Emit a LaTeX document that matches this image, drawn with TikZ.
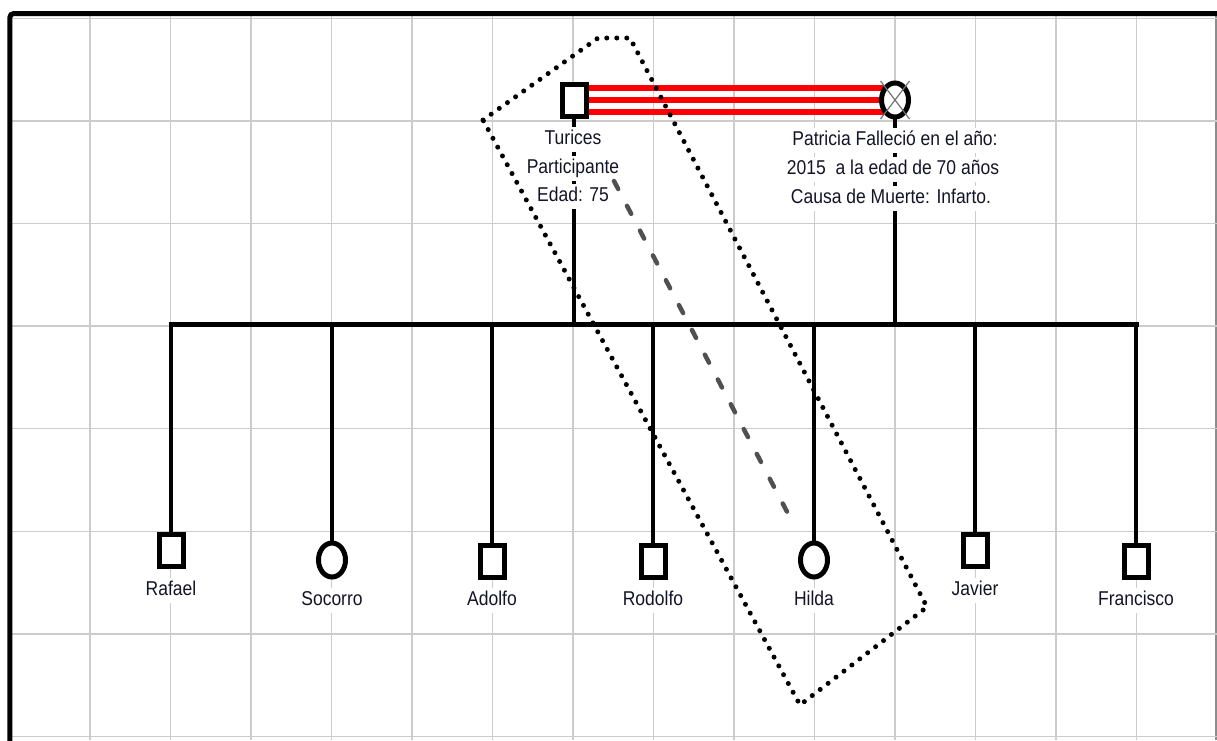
\documentclass[tikz,border=0pt]{standalone}
\usepackage{fontspec}
\usetikzlibrary{shapes.geometric}
\newfontfamily\lblfont{Liberation Sans}[FakeStretch=0.875]
\definecolor{gridgray}{RGB}{204,204,204}
\definecolor{labelink}{RGB}{20,20,40}
\definecolor{linkgray}{RGB}{80,80,80}
\pgfdeclarelayer{gridlayer}
\pgfdeclarelayer{wires}
\pgfsetlayers{gridlayer,wires,main}
\begin{document}
\begin{tikzpicture}[x=1pt,y=-1pt,
  gridline/.style={draw=gridgray,line width=1.5},
  male/.style={shape=rectangle,draw=black,fill=white,line width=5,inner sep=0,minimum width=24,minimum height=32},
  female/.style={shape=ellipse,draw=black,fill=white,line width=5,inner sep=0,minimum width=27,minimum height=34},
  lbl/.style={font=\lblfont\fontsize{20}{24}\selectfont,text=labelink,fill=white,inner xsep=1,inner ysep=3,text height=14.5,text depth=4.5,anchor=base},
  wire/.style={draw=black,line width=4},
  busline/.style={draw=black,line width=5,line cap=rect},
  couple/.style={draw=red,line width=6.5},
  crossmark/.style={draw=black!55,line width=1.2},
  groupbox/.style={draw=black,line width=5,line cap=round,dash pattern=on 0pt off 10pt},
  link/.style={draw=linkgray,line width=4.5,line cap=round,dash pattern=on 9pt off 19pt},
  frame/.style={draw=black,line width=5,rounded corners=4}]
\useasboundingbox (0,0) rectangle (1217,740);

% background grid
\begin{pgfonlayer}{gridlayer}
  \foreach \k in {0,...,13}
    \draw[gridline] ({90+80.5*\k},16) -- ({90+80.5*\k},740);
  \draw[gridline,draw=black!45] (1216,16) -- (1216,740);
  \foreach \k in {0,...,7}
    \draw[gridline] (12,{18.3+102.6*\k}) -- (1217,{18.3+102.6*\k});
\end{pgfonlayer}

% parents
\node[male] (turices) at (574,100) {};
\node[female] (patricia) at (895,100) {};
\draw[crossmark] ([shift={(-14.5,-19)}]patricia.center) -- ([shift={(14.5,19)}]patricia.center);
\draw[crossmark] ([shift={(14.5,-19)}]patricia.center) -- ([shift={(-14.5,19)}]patricia.center);

\node[lbl] (turicesA) at (573,144.5) {Turices};
\node[lbl] (turicesB) at (573,173) {Participante};
\node[lbl] (turicesC) at (573,201.5) {Edad: 75};
\node[lbl] (patriciaA) at (895,145.5) {Patricia Falleció en el año:};
\node[lbl] (patriciaB) at (893,174.5) {2015\ \ a la edad de 70 años};
\node[lbl] (patriciaC) at (891,203.5) {Causa de Muerte: Infarto.};

\coordinate (bus) at (0,324.5);

% children
\foreach \n/\t/\x/\y/\s/\ly in {
    rafael/Rafael/171/550/male/595,
    socorro/Socorro/332/560/female/605,
    adolfo/Adolfo/492/561/male/605,
    rodolfo/Rodolfo/653/561/male/605,
    hilda/Hilda/814/560/female/605,
    javier/Javier/975/550/male/595,
    francisco/Francisco/1136/561/male/605} {
  \node[\s] (\n) at (\x,\y) {};
  \node[lbl] (\n-name) at (\x,\ly) {\t};
}

% family lines
\begin{pgfonlayer}{wires}
  \foreach \o in {-12,0,12}
    \draw[couple] ([shift={(0,\o)}]turices.center) -- ([shift={(0,\o)}]patricia.center);
  \draw[wire] (turices.center) -- (turices.center |- bus);
  \draw[wire] (patricia.center) -- (patricia.center |- bus);
  \draw[busline] (rafael.center |- bus) -- (francisco.center |- bus);
  \foreach \n in {rafael,socorro,adolfo,rodolfo,hilda,javier,francisco}
    \draw[wire] (\n.center) -- (\n.center |- bus);
\end{pgfonlayer}

% dotted group outline
\draw[groupbox] (483,120) -- (598,38) -- (630,38) -- (927,607) -- (800,705) -- cycle;

% dashed relation line
\coordinate (linkA) at (614,181);
\coordinate (linkB) at (795,527);
\draw[link] (linkA) -- (linkB);

% sheet frame
\draw[frame] (9.8,760) -- (9.8,13.5) -- (1240,13.5);
\end{tikzpicture}
\end{document}
